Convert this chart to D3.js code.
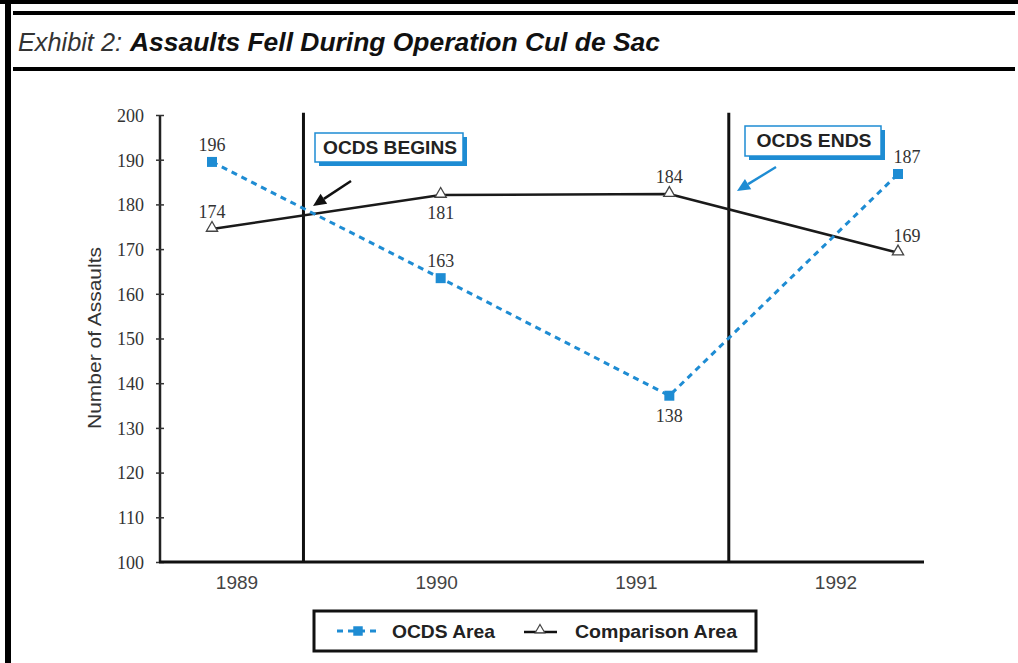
<!DOCTYPE html>
<html><head><meta charset="utf-8">
<script src="https://cdn.jsdelivr.net/npm/d3@7/dist/d3.min.js"></script>
<style>body{margin:0;background:#fff}svg{display:block}</style>
</head><body>
<script>
const years = [1989, 1990, 1991, 1992];
const ocdsValues = [189.5, 163.5, 137.2, 186.8];
const ocdsLabels = ["196", "163", "138", "187"];
const compValues = [174.5, 182.1, 182.3, 169.2];
const compLabels = ["174", "181", "184", "169"];
const yTicks = [100, 110, 120, 130, 140, 150, 160, 170, 180, 190, 200];
const events = [{year: 1989.40, label: "OCDS BEGINS"}, {year: 1991.26, label: "OCDS ENDS"}];
const legendItems = ["OCDS Area", "Comparison Area"];

const W = 1018, H = 663, blue = "#1e8cd3";
const svg = d3.select("body").append("svg").attr("width", W).attr("height", H);

// frame
svg.append("rect").attr("x", 0).attr("y", 0).attr("width", W).attr("height", 4).attr("fill", "#000");
svg.append("rect").attr("x", 5).attr("y", 0).attr("width", 6).attr("height", H).attr("fill", "#000");
svg.append("rect").attr("x", 13).attr("y", 11).attr("width", 1002).attr("height", 4).attr("fill", "#000");
svg.append("rect").attr("x", 13).attr("y", 67).attr("width", 1002).attr("height", 4).attr("fill", "#000");

// title
svg.append("text").attr("x", 18).attr("y", 51).attr("font-family", "Liberation Sans, Arial, sans-serif")
  .attr("font-style", "italic").attr("font-size", 25).attr("fill", "#333")
  .attr("textLength", 104).attr("lengthAdjust", "spacingAndGlyphs").text("Exhibit 2:");
svg.append("text").attr("x", 130).attr("y", 51).attr("font-family", "Liberation Sans, Arial, sans-serif")
  .attr("font-style", "italic").attr("font-weight", "bold").attr("font-size", 25).attr("fill", "#111")
  .attr("textLength", 530).attr("lengthAdjust", "spacingAndGlyphs").text("Assaults Fell During Operation Cul de Sac");

// scales
const x = d3.scaleLinear().domain([1989, 1992]).range([212, 898]);
const xLab = d3.scalePoint().domain(years).range([237, 836]);
const y = d3.scaleLinear().domain([100, 200]).range([562, 115]);

// y axis
const yAxis = svg.append("g").attr("transform", "translate(160,0)")
  .call(d3.axisLeft(y).tickValues(yTicks).tickSize(4).tickPadding(12));
yAxis.select(".domain").attr("stroke", "#222").attr("stroke-width", 2.5).attr("d", `M0,${y(200)}V${y(100)}`);
yAxis.selectAll(".tick line").attr("x1", -4).attr("x2", 4).attr("stroke", "#333").attr("stroke-width", 1.5);
yAxis.selectAll(".tick text").attr("font-family", "Liberation Serif, Times New Roman, serif")
  .attr("font-size", 18).attr("fill", "#333").attr("dy", "0.35em");

// x axis line + labels
svg.append("line").attr("x1", 159).attr("x2", 924).attr("y1", y(100)).attr("y2", y(100))
  .attr("stroke", "#111").attr("stroke-width", 3);
svg.append("g").selectAll("text").data(years).join("text")
  .attr("x", d => xLab(d)).attr("y", 589).attr("text-anchor", "middle")
  .attr("font-family", "Liberation Sans, Arial, sans-serif").attr("font-size", 19).attr("fill", "#444")
  .text(d => d);

// y axis title
svg.append("text").attr("transform", "translate(101,338) rotate(-90)").attr("text-anchor", "middle")
  .attr("font-family", "Liberation Sans, Arial, sans-serif").attr("font-size", 19).attr("fill", "#333")
  .attr("textLength", 182).attr("lengthAdjust", "spacingAndGlyphs")
  .text("Number of Assaults");

// event lines
svg.append("g").selectAll("line").data(events).join("line")
  .attr("x1", d => x(d.year)).attr("x2", d => x(d.year)).attr("y1", y(200.5)).attr("y2", y(100))
  .attr("stroke", "#111").attr("stroke-width", 3);

// series lines
const line = d3.line().x(d => x(d[0])).y(d => y(d[1]));
const compData = years.map((yr, i) => [yr, compValues[i], compLabels[i]]);
const ocdsData = years.map((yr, i) => [yr, ocdsValues[i], ocdsLabels[i]]);
svg.append("path").datum(compData).attr("d", line).attr("fill", "none").attr("stroke", "#1a1a1a").attr("stroke-width", 2.5);
svg.append("path").datum(ocdsData).attr("d", line).attr("fill", "none").attr("stroke", blue)
  .attr("stroke-width", 3).attr("stroke-dasharray", "6,5");

svg.append("g").selectAll("path").data(ocdsData).join("path")
  .attr("transform", d => `translate(${x(d[0])},${y(d[1])})`)
  .attr("d", d3.symbol(d3.symbolSquare, 100)).attr("fill", blue);
svg.append("g").selectAll("path").data(compData).join("path")
  .attr("transform", d => `translate(${x(d[0])},${y(d[1]) - 1})`)
  .attr("d", d3.symbol(d3.symbolTriangle, 55)).attr("fill", "#fff").attr("stroke", "#444").attr("stroke-width", 1.3);

// data labels
const ocdsBelow = [false, false, true, false];
const compBelow = [false, true, false, false];
const labDx = [0, 0, 0, 9];
const labStyle = s => s.attr("font-family", "Liberation Serif, Times New Roman, serif").attr("font-size", 18)
  .attr("fill", "#333").attr("text-anchor", "middle");
svg.append("g").selectAll("text").data(ocdsData).join("text")
  .attr("x", (d, i) => x(d[0]) + labDx[i]).attr("y", (d, i) => y(d[1]) + (ocdsBelow[i] ? 26 : -11)).call(labStyle).text(d => d[2]);
svg.append("g").selectAll("text").data(compData).join("text")
  .attr("x", (d, i) => x(d[0]) + labDx[i]).attr("y", (d, i) => y(d[1]) + (compBelow[i] ? 24 : -11)).call(labStyle).text(d => d[2]);

// callouts
function callout(bx, by, bw, bh, text, tl, arrow, arrowColor) {
  const g = svg.append("g");
  g.append("rect").attr("x", bx + 4).attr("y", by + 4).attr("width", bw).attr("height", bh).attr("fill", blue);
  g.append("rect").attr("x", bx).attr("y", by).attr("width", bw).attr("height", bh)
    .attr("fill", "#fff").attr("stroke", blue).attr("stroke-width", 1.5);
  g.append("text").attr("x", bx + bw / 2 + 1).attr("y", by + bh / 2 + 6).attr("text-anchor", "middle")
    .attr("font-family", "Liberation Sans, Arial, sans-serif").attr("font-weight", "bold").attr("font-size", 18)
    .attr("textLength", tl).attr("lengthAdjust", "spacingAndGlyphs")
    .attr("fill", "#222").text(text);
  const [x1, y1, x2, y2] = arrow;
  const ang = Math.atan2(y2 - y1, x2 - x1), L = 13, Wd = 6;
  const bxp = x2 - L * Math.cos(ang), byp = y2 - L * Math.sin(ang);
  g.append("line").attr("x1", x1).attr("y1", y1).attr("x2", bxp).attr("y2", byp).attr("stroke", arrowColor).attr("stroke-width", 2.5);
  g.append("path").attr("d", `M${x2},${y2}L${bxp + Wd * Math.sin(ang)},${byp - Wd * Math.cos(ang)}L${bxp - Wd * Math.sin(ang)},${byp + Wd * Math.cos(ang)}Z`)
    .attr("fill", arrowColor);
}
callout(315, 133, 148, 29, events[0].label, 134, [351, 181, 313, 206], "#111");
callout(745, 126, 136, 30, events[1].label, 115, [776, 167, 737, 191], blue);

// legend
svg.append("rect").attr("x", 314).attr("y", 611).attr("width", 442).attr("height", 40)
  .attr("fill", "#fff").attr("stroke", "#111").attr("stroke-width", 3);
const lg = svg.append("g");
lg.append("line").attr("x1", 337).attr("x2", 380).attr("y1", 631).attr("y2", 631).attr("stroke", blue)
  .attr("stroke-width", 3).attr("stroke-dasharray", "6,5");
lg.append("path").attr("transform", "translate(358,631)").attr("d", d3.symbol(d3.symbolSquare, 90)).attr("fill", blue);
lg.append("line").attr("x1", 524).attr("x2", 557).attr("y1", 632).attr("y2", 632).attr("stroke", "#111").attr("stroke-width", 2.5);
lg.append("path").attr("transform", "translate(540,630)").attr("d", d3.symbol(d3.symbolTriangle, 40))
  .attr("fill", "#fff").attr("stroke", "#444").attr("stroke-width", 1.2);
const legLen = [103, 162];
lg.selectAll("text").data(legendItems).join("text")
  .attr("x", (d, i) => i === 0 ? 392 : 575).attr("y", 638)
  .attr("font-family", "Liberation Sans, Arial, sans-serif").attr("font-weight", "bold").attr("font-size", 19)
  .attr("textLength", (d, i) => legLen[i]).attr("lengthAdjust", "spacingAndGlyphs")
  .attr("fill", "#222").text(d => d);
</script>
</body></html>
